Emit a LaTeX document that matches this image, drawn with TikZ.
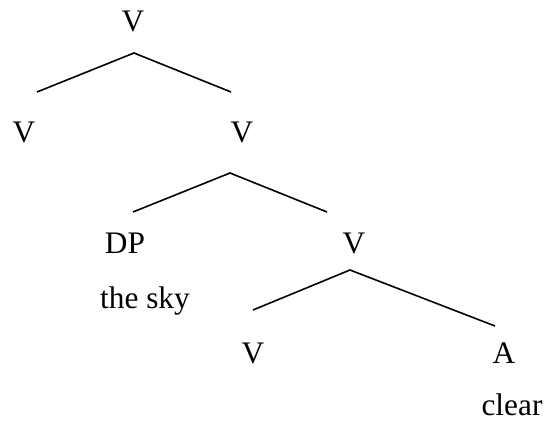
\documentclass[tikz,border=0pt]{standalone}
\usepackage{fontspec}
\setmainfont{Liberation Serif}
\begin{document}
\begin{tikzpicture}[x=0.75pt,y=-0.75pt,
  lab/.style={anchor=base,inner sep=0pt,font=\fontsize{23.5pt}{28pt}\selectfont},
  branch/.style={line width=1.2pt}]
\useasboundingbox (0,0) rectangle (547,421);
% labels
\node[lab] (v0) at (133,31.5) {V};
\node[lab] (v1) at (24,142) {V};
\node[lab] (v2) at (242,142) {V};
\node[lab] (dp) at (125,253) {DP};
\node[lab] (sky) at (145,308) {the sky};
\node[lab] (v3) at (354,253) {V};
\node[lab] (v4) at (253,363) {V};
\node[lab] (a) at (504,363) {A};
\node[lab] (clr) at (512,415) {clear};
% branch points
\coordinate (t0) at (134,53);
\coordinate (l0) at (37,92);
\coordinate (r0) at (231,92);
\coordinate (t1) at (230,173);
\coordinate (l1) at (133,212);
\coordinate (r1) at (327,212);
\coordinate (t2) at (350,270);
\coordinate (l2) at (253,310);
\coordinate (r2) at (495,326);
\draw[branch] (l0) -- (t0) -- (r0);
\draw[branch] (l1) -- (t1) -- (r1);
\draw[branch] (l2) -- (t2) -- (r2);
\end{tikzpicture}
\end{document}
